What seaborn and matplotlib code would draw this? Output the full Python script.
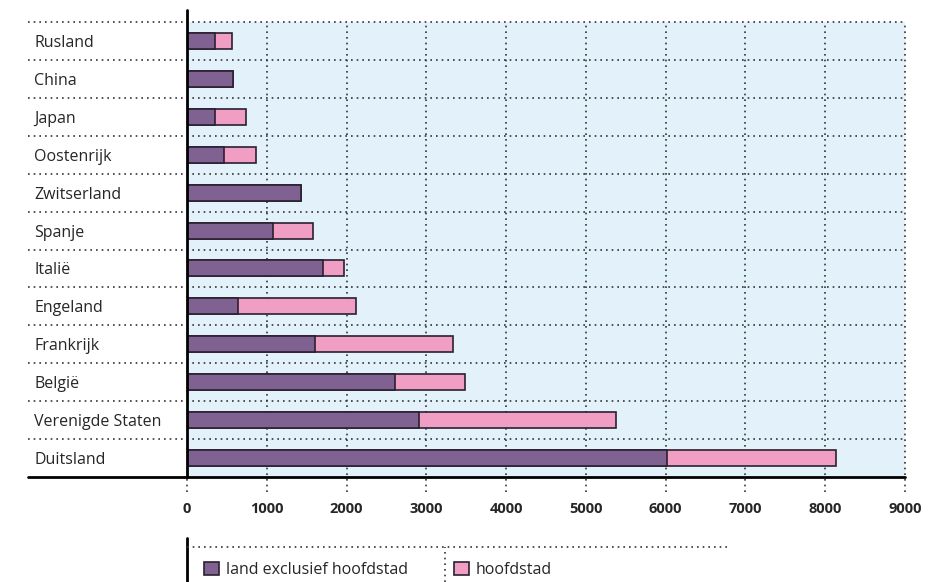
import numpy as np
import pandas as pd
import matplotlib.pyplot as plt
import seaborn as sns
from matplotlib.patches import Patch
from matplotlib.lines import Line2D

landen = ['Rusland', 'China', 'Japan', 'Oostenrijk', 'Zwitserland', 'Spanje',
          'Italië', 'Engeland', 'Frankrijk', 'België', 'Verenigde Staten', 'Duitsland']
exclusief = [347, 580, 350, 468, 1430, 1078, 1705, 640, 1604, 2607, 2904, 6012]
hoofdstad = [213, 0, 385, 401, 0, 502, 263, 1478, 1730, 878, 2469, 2119]
xticks = [0, 1000, 2000, 3000, 4000, 5000, 6000, 7000, 8000, 9000]

paars = '#7f6291'
roze = '#f09ec4'
blauw = '#e3f1fb'

df = pd.DataFrame({'land': landen, 'excl': exclusief, 'hoofd': hoofdstad})
df['totaal'] = df['excl'] + df['hoofd']

sns.set_style('white')
plt.rcParams['font.family'] = ['Open Sans', 'DejaVu Sans']

fig = plt.figure(figsize=(9.5, 5.82), dpi=100)
ax = fig.add_axes([187/950, 1 - 477/582, 718/950, 455/582])
ax.set_facecolor(blauw)

sns.barplot(data=df, y='land', x='totaal', color=roze, orient='h', width=0.42,
            edgecolor='#2a2030', linewidth=1.2, saturation=1, ax=ax)
sns.barplot(data=df, y='land', x='excl', color=paars, orient='h', width=0.42,
            edgecolor='#2a2030', linewidth=1.2, saturation=1, ax=ax)

ax.set_xlim(0, 9000)
ax.set_ylim(len(landen) - 0.5, -0.5)
ax.set_xlabel('')
ax.set_ylabel('')
for s in ax.spines.values():
    s.set_visible(False)

dot = (0, (1, 2.4))
# verticale stippellijnen, lopen door tot onder de as
for x in xticks[1:]:
    ax.plot([x, x], [-0.033, 1], transform=ax.get_xaxis_transform(), color='#333333',
            lw=1.2, ls=dot, clip_on=False, zorder=0.5)
ax.plot([0, 0], [-0.033, 0], transform=ax.get_xaxis_transform(), color='#333333',
        lw=1.2, ls=dot, clip_on=False)
# horizontale stippellijnen tussen de rijen, ook door het labelgebied
for i in range(len(landen)):
    ax.plot([-0.2214, 1], [i - 0.5, i - 0.5], transform=ax.get_yaxis_transform(),
            color='#333333', lw=1.2, ls=dot, clip_on=False, zorder=0.5)

# assen
ax.plot([0, 0], [0, 1.026], transform=ax.transAxes, color='black', lw=2, clip_on=False, zorder=5)
ax.plot([-0.2214, 1], [0, 0], transform=ax.transAxes, color='black', lw=2, clip_on=False, zorder=5)

ax.set_xticks(xticks)
ax.set_xticklabels([str(x) for x in xticks], fontweight='bold', fontsize=10.5)
ax.tick_params(axis='x', length=0, pad=18)
ax.tick_params(axis='y', length=0, pad=110, labelsize=11.5)
for lbl in ax.get_yticklabels():
    lbl.set_horizontalalignment('left')

# legenda
handles = [Patch(facecolor=paars, edgecolor='#2a2030', lw=1.2, label='land exclusief hoofdstad'),
           Patch(facecolor=roze, edgecolor='#2a2030', lw=1.2, label='hoofdstad')]
fig.legend(handles=handles, ncol=2, frameon=False, loc='center left',
           bbox_to_anchor=(190/950, 1 - 570/582), fontsize=11.5, handlelength=0.9,
           handleheight=0.9, handletextpad=0.45, columnspacing=2.9)
fig.add_artist(Line2D([187/950, 187/950], [0, 1 - 538/582], color='black', lw=2))
fig.add_artist(Line2D([187/950, 730/950], [1 - 547/582] * 2, color='#333333', lw=1.2, ls=dot))
fig.add_artist(Line2D([445/950, 445/950], [0, 1 - 547/582], color='#333333', lw=1.2, ls=dot))

fig.savefig('out.png', dpi=100)
